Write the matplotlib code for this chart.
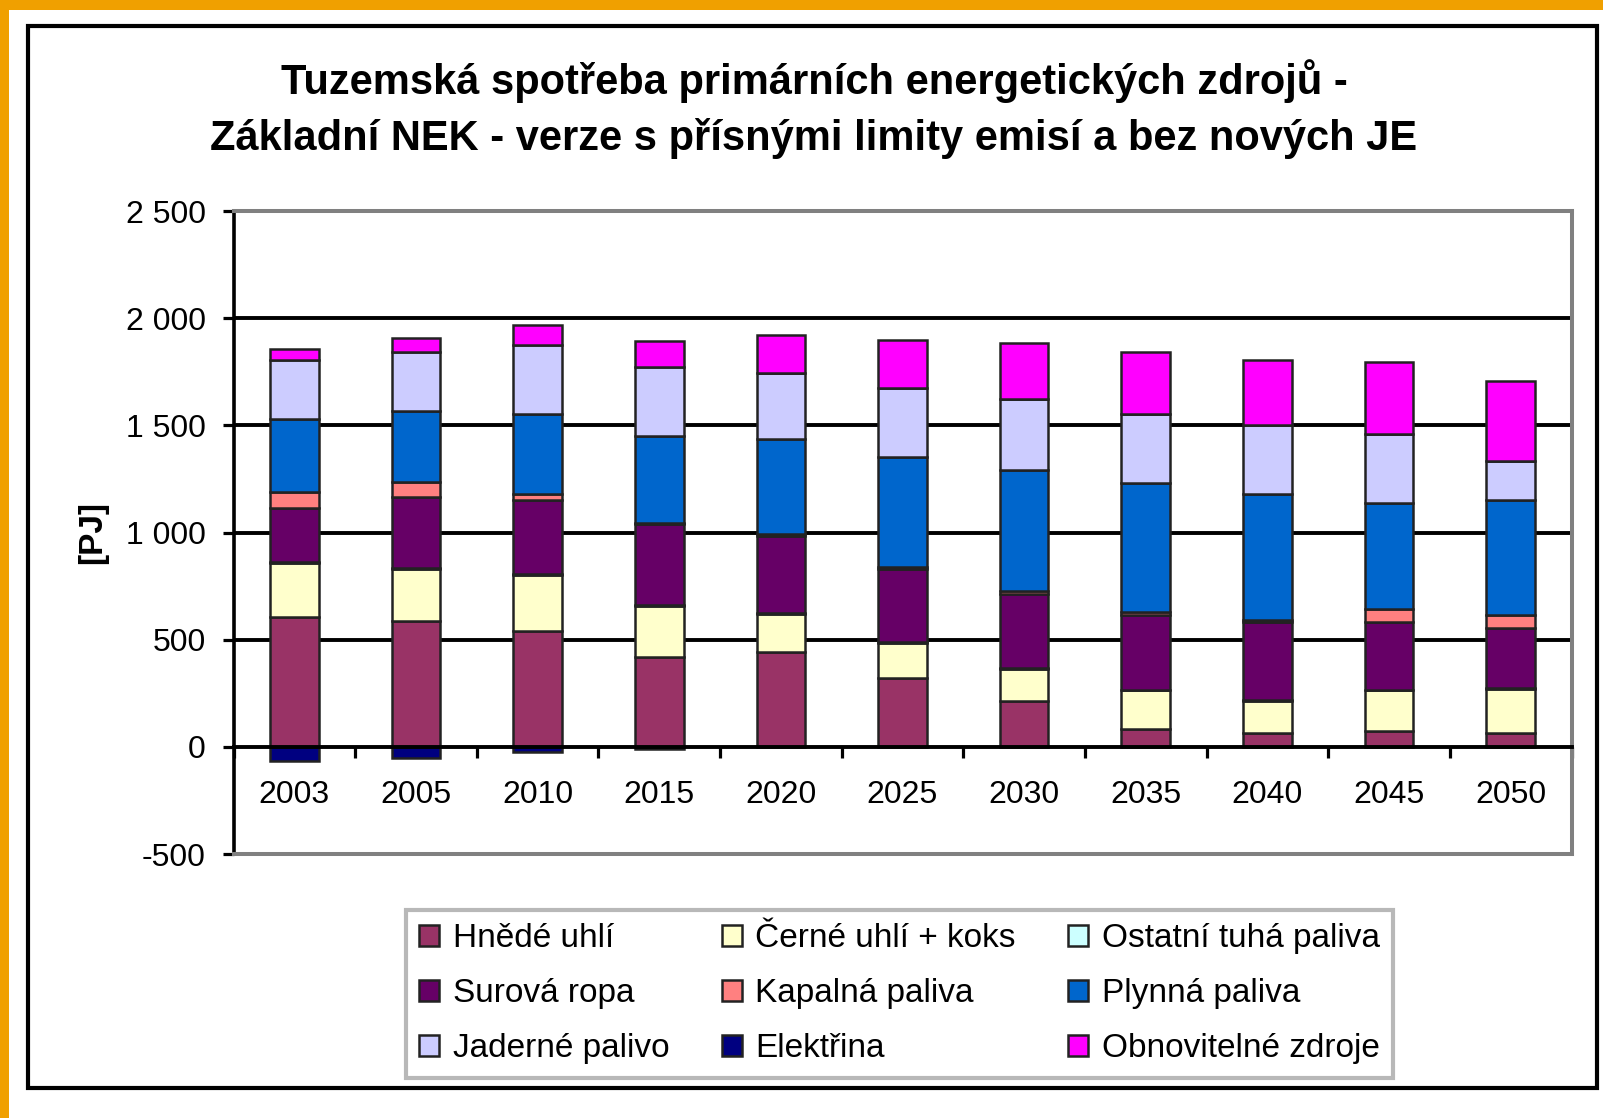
import matplotlib
matplotlib.use("Agg")
import matplotlib.pyplot as plt
from matplotlib.patches import Rectangle
import numpy as np

plt.rcParams['font.family'] = ['Liberation Sans', 'DejaVu Sans']

years = ['2003', '2005', '2010', '2015', '2020', '2025', '2030', '2035', '2040', '2045', '2050']

hnede_uhli = [608, 588, 541, 418, 443, 321, 216, 82, 66, 74, 63]
cerne_uhli = [250, 244, 261, 238, 176, 165, 149, 181, 150, 189, 207]
ostatni_tuha = [4, 4, 4, 4, 4, 4, 4, 4, 4, 4, 4]
surova_ropa = [254, 328, 345, 381, 363, 342, 342, 350, 362, 315, 279]
kapalna = [74, 73, 27, 5, 5, 5, 15, 10, 8, 63, 63]
plynna = [338, 330, 374, 404, 443, 515, 566, 606, 588, 493, 535]
jaderne = [279, 276, 322, 322, 311, 321, 331, 319, 322, 320, 181]
elektrina = [-65, -50, -25, -10, 0, 0, 0, 0, 0, 0, 0]
obnovitelne = [51, 63, 94, 121, 176, 225, 259, 291, 307, 338, 377]

series_names = ['Hnědé uhlí', 'Černé uhlí + koks', 'Ostatní tuhá paliva',
                'Surová ropa', 'Kapalná paliva', 'Plynná paliva',
                'Jaderné palivo', 'Elektřina', 'Obnovitelné zdroje']
series_values = [hnede_uhli, cerne_uhli, ostatni_tuha, surova_ropa, kapalna,
                 plynna, jaderne, elektrina, obnovitelne]
series_colors = ['#993366', '#FFFFCC', '#CCFFFF', '#660066', '#FF8080',
                 '#0066CC', '#CCCCFF', '#000080', '#FF00FF']

yticks = [-500, 0, 500, 1000, 1500, 2000, 2500]
ytick_labels = ['-500', '0', '500', '1 000', '1 500', '2 000', '2 500']

W, H = 1603, 1118
fig = plt.figure(figsize=(W / 100, H / 100), dpi=100)

# orange border (top and left) + black frame
fig.patches.append(Rectangle((0, 1 - 10 / H), 1, 10 / H, transform=fig.transFigure,
                             facecolor='#F0A000', edgecolor='none'))
fig.patches.append(Rectangle((0, 0), 9 / W, 1, transform=fig.transFigure,
                             facecolor='#F0A000', edgecolor='none'))
fig.patches.append(Rectangle((28.5 / W, 1 - 1088 / H), (1597 - 28.5) / W, (1088 - 25.5) / H,
                             transform=fig.transFigure, facecolor='none',
                             edgecolor='black', linewidth=3))

ax = fig.add_axes([233.5 / W, 1 - 854 / H, (1571.5 - 233.5) / W, (854 - 211) / H])

x = np.arange(len(years))
pos_bottom = np.zeros(len(years))
neg_bottom = np.zeros(len(years))
handles = []
for name, vals, col in zip(series_names, series_values, series_colors):
    vals = np.array(vals, dtype=float)
    bottom = np.where(vals >= 0, pos_bottom, neg_bottom)
    b = ax.bar(x, vals, width=0.4, bottom=bottom, color=col, edgecolor='#222222',
               linewidth=1.8, label=name, zorder=2)
    handles.append(b)
    pos_bottom = pos_bottom + np.where(vals >= 0, vals, 0)
    neg_bottom = neg_bottom + np.where(vals < 0, vals, 0)

ax.set_xlim(-0.5, len(years) - 0.5)
ax.set_ylim(yticks[0], yticks[-1])

# gridlines
for t in yticks[1:-1]:
    if t != 0:
        ax.axhline(t, color='black', linewidth=2.8, zorder=1)
ax.axhline(yticks[0], color='#808080', linewidth=2.9, zorder=3, clip_on=False)

for s in ['top', 'right']:
    ax.spines[s].set_color('#808080')
    ax.spines[s].set_linewidth(2.9)
ax.spines['left'].set_color('black')
ax.spines['left'].set_linewidth(2.6)
ax.spines['bottom'].set_position(('data', 0))
ax.spines['bottom'].set_color('black')
ax.spines['bottom'].set_linewidth(2.8)
ax.spines['bottom'].set_zorder(4)

ax.set_yticks(yticks)
ax.set_yticklabels(ytick_labels, fontsize=23)
ax.tick_params(axis='y', direction='out', length=8, width=2.3, pad=12)

ax.set_xticks(x)
ax.set_xticklabels(years, fontsize=23)
ax.set_xticks(np.arange(len(years) + 1) - 0.5, minor=True)
ax.tick_params(axis='x', which='major', length=0, pad=24)
ax.tick_params(axis='x', which='minor', direction='out', length=8, width=2.3)

ax.set_ylabel('[PJ]', fontsize=24, fontweight='bold', labelpad=13)

fig.text(814 / W, 1 - 109 / H,
         'Tuzemská spotřeba primárních energetických zdrojů -\n'
         'Základní NEK - verze s přísnými limity emisí a bez nových JE',
         ha='center', va='center', fontsize=30, fontweight='bold', linespacing=1.45)

order = [0, 3, 6, 1, 4, 7, 2, 5, 8]
leg = fig.legend([handles[i] for i in order], [series_names[i] for i in order],
                 ncol=3, mode='expand',
                 bbox_to_anchor=(406 / W, 1 - 1081 / H, (1393 - 406) / W, (1081 - 910) / H),
                 loc='upper left', fontsize=24, frameon=True, fancybox=False,
                 handlelength=0.6, handleheight=0.6, handletextpad=0.4,
                 labelspacing=0.72, borderpad=0.4, borderaxespad=0)
leg.get_frame().set_edgecolor('#A6A6A6')
leg.get_frame().set_linewidth(3)

fig.savefig('out.png', dpi=100)
